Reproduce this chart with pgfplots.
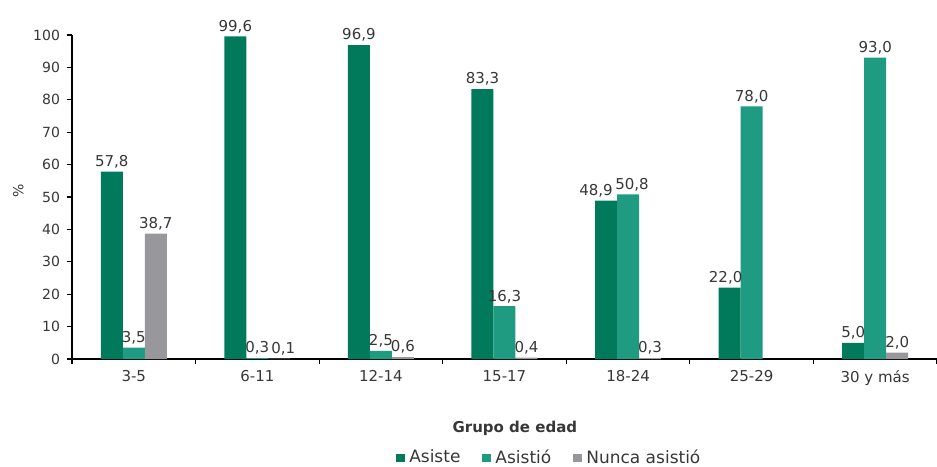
\documentclass[border=0pt]{standalone}
\usepackage{pgfplots}
\pgfplotsset{compat=1.18}
\usepackage{fontspec}
\setmainfont{DejaVu Sans}
\definecolor{asiste}{RGB}{0,122,90}
\definecolor{asistio}{RGB}{30,155,128}
\definecolor{nunca}{RGB}{152,152,156}
\definecolor{txt}{RGB}{55,55,55}
\begin{document}
\begin{tikzpicture}
\useasboundingbox (-36pt,-53.5pt) rectangle (432.5pt,179.5pt);
\begin{axis}[
  at={(0,0)}, anchor=south west,
  scale only axis, width=432.5pt, height=162pt,
  ybar=0pt, bar width=11pt,
  xmin=-0.5, xmax=6.5, ymin=0, ymax=100,
  axis lines*=left,
  axis line style={black, line width=0.6pt},
  tick align=outside,
  major tick length=2.5pt,
  tick style={black, line width=0.6pt},
  ytick={0,10,...,100},
  xtick={-0.5,0.5,...,6.5}, xticklabels={},
  extra x ticks={0,1,2,3,4,5,6},
  extra x tick labels={3-5,6-11,12-14,15-17,18-24,25-29,30 y más},
  extra x tick style={major tick length=0pt},
  font=\fontsize{7}{8}\selectfont,
  /pgf/number format/assume math mode=true,
  yticklabel style={font=\fontsize{7}{8}\selectfont, text=txt},
  xticklabel style={font=\fontsize{7.5}{8}\selectfont, text=txt, yshift=-2pt},
  ylabel={\%},
  ylabel style={at={(axis description cs:-0.062,0.52)}, anchor=center, font=\fontsize{7}{8}\selectfont, text=txt},
  xlabel={\textbf{Grupo de edad}},
  xlabel style={at={(axis description cs:0.512,0)}, anchor=center, yshift=-34.5pt, font=\fontsize{7.5}{8}\selectfont, text=txt},
  visualization depends on={value \thisrow{dx} \as \dx},
  nodes near coords,
  nodes near coords style={font=\fontsize{7.5}{8}\selectfont, text=txt, inner sep=1.5pt, xshift=\dx pt,
    /pgf/number format/.cd, fixed, fixed zerofill, precision=1, use comma, assume math mode=true},
  legend columns=3,
  legend style={at={(axis description cs:0.553,0)}, anchor=center, yshift=-49.5pt, draw=none, fill=none,
    font=\fontsize{8.5}{9}\selectfont, text=txt,
    /tikz/every even column/.append style={column sep=9pt}},
  legend image code/.code={\fill[#1] (0pt,-2.2pt) rectangle (4.5pt,2.2pt);},
]
\addplot[fill=asiste, draw=none] table[x=x, y=y] {
x y dx
0 57.8 0
1 99.6 0
2 96.9 0
3 83.3 0
4 48.9 -5
5 22.0 -2
6 5.0 0
};
\addplot[fill=asistio, draw=none] table[x=x, y=y] {
x y dx
0 3.5 0
1 0.3 0
2 2.5 0
3 16.3 0
4 50.8 2
5 78.0 0
6 93.0 0
};
\addplot[fill=nunca, draw=none] table[x=x, y=y] {
x y dx
0 38.7 0
1 0.1 2
2 0.6 0
3 0.4 0
4 0.3 0
6 2.0 0
};
\legend{Asiste, Asistió, Nunca asistió}
\end{axis}
\end{tikzpicture}
\end{document}
